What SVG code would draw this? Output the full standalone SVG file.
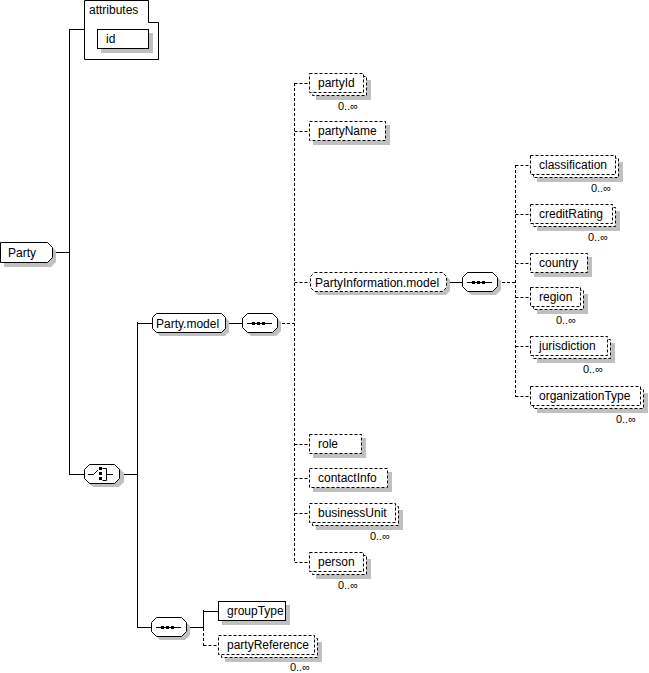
<svg xmlns="http://www.w3.org/2000/svg" width="649" height="673" viewBox="0 0 649 673">
<style>
.sh{fill:#c0c0c0;stroke:none}
.box{fill:#fff;stroke:#000;stroke-width:1}
.d{stroke-dasharray:3 2}
.t{font-family:"Liberation Sans",Arial,sans-serif;font-size:12px;fill:#000}
.occ{font-family:"Liberation Sans",Arial,sans-serif;font-size:11px;fill:#000;text-anchor:end}
.ln{stroke:#000;stroke-width:1;fill:none}
.sym{fill:#000;stroke:none}
</style>
<rect width="649" height="673" fill="#fff"/>
<g id="connectors">
<path class="ln" d="M52,252.5H69.5M69.5,29V475M69.5,29.5H84M69.5,474.5H84M119,474.5H137.5M137.5,322V628M137.5,323.5H152M225,323.5H242M446,282.5H463M137.5,627.5H151M186,627.5H203.5M203.5,610V628M203.5,611.5H218"/>
<path class="ln d" d="M277,323.5H294.5M294.5,83V563M294.5,83.5H309M294.5,131.5H309M294.5,282.5H310M294.5,444.5H309M294.5,478.5H309M294.5,513.5H309M294.5,562.5H309M497,282.5H515.5M515.5,165V397M515.5,165.5H530M515.5,214.5H530M515.5,263.5H530M515.5,297.5H530M515.5,346.5H530M515.5,396.5H530M203.5,628V646M203.5,645.5H218"/>
</g>
<g id="attributes">
<path class="box" d="M84.5,0.5H148.5V22.5H158.5V59.5H84.5Z"/>
<text class="t" x="89" y="14">attributes</text>
<rect class="sh" x="101" y="33" width="52" height="20"/>
<rect class="box" x="97.5" y="29.5" width="51" height="19"/>
<text class="t" x="106" y="43">id</text>
</g>
<g id="Party">
<path class="sh" d="M4,246H51L56,251V262L51,267H4Z"/>
<path class="box" d="M0.5,242.5H47.5L52.5,247.5V257.5L47.5,262.5H0.5Z"/>
<text class="t" x="8" y="257">Party</text>
</g>
<g id="choice">
<path class="sh" d="M93,468H119L124,473V482L119,487H93L88,482V473Z"/>
<path class="box" d="M89.5,464.5H114.5L119.5,469.5V478.5L114.5,483.5H89.5L84.5,478.5V469.5Z"/>
<path class="ln" d="M88,474.5H93.5L98,470M102.5,468.5H106.5V480.5H102.5M106.5,474.5H113"/>
<rect class="sym" x="99" y="467" width="3" height="3"/>
<rect class="sym" x="99" y="472" width="3" height="3"/>
<rect class="sym" x="99" y="477" width="3" height="3"/>
</g>
<g id="Party.model">
<path class="sh" d="M160,317H225L229,321V332L225,336H160L156,332V321Z"/>
<path class="box" d="M156.5,313.5H221.5L225.5,317.5V328.5L221.5,332.5H156.5L152.5,328.5V317.5Z"/>
<text class="t" x="156" y="328">Party.model</text>
</g>
<g id="seq1">
<path class="sh" d="M251,317H276L281,322V331L276,336H251L246,331V322Z"/>
<path class="box" d="M247.5,313.5H272.5L277.5,318.5V327.5L272.5,332.5H247.5L242.5,327.5V318.5Z"/>
<path class="ln" d="M247,323.5H272"/>
<rect class="sym" x="252" y="322" width="3" height="3"/>
<rect class="sym" x="257" y="322" width="3" height="3"/>
<rect class="sym" x="262" y="322" width="3" height="3"/>
</g>
<g id="partyId">
<rect class="sh" x="316" y="80" width="55" height="20"/>
<rect class="box d" x="312.5" y="76.5" width="54" height="19"/>
<rect class="box d" x="309.5" y="73.5" width="54" height="19"/>
<text class="t" x="318" y="87">partyId</text>
<text class="occ" x="358" y="110">0..∞</text>
</g>
<g id="partyName">
<rect class="sh" x="313" y="125" width="77" height="20"/>
<rect class="box d" x="309.5" y="121.5" width="76" height="19"/>
<text class="t" x="318" y="135">partyName</text>
</g>
<g id="PartyInformation.model">
<path class="sh" d="M318,276H446L450,280V291L446,295H318L314,291V280Z"/>
<path class="box d" d="M314.5,272.5H442.5L446.5,276.5V287.5L442.5,291.5H314.5L310.5,287.5V276.5Z"/>
<text class="t" x="315" y="287">PartyInformation.model</text>
</g>
<g id="seq2">
<path class="sh" d="M471,276H496L501,281V290L496,295H471L466,290V281Z"/>
<path class="box" d="M467.5,272.5H492.5L497.5,277.5V286.5L492.5,291.5H467.5L462.5,286.5V277.5Z"/>
<path class="ln" d="M467,282.5H492"/>
<rect class="sym" x="472" y="281" width="3" height="3"/>
<rect class="sym" x="477" y="281" width="3" height="3"/>
<rect class="sym" x="482" y="281" width="3" height="3"/>
</g>
<g id="classification">
<rect class="sh" x="537" y="162" width="86" height="20"/>
<rect class="box d" x="533.5" y="158.5" width="85" height="19"/>
<rect class="box d" x="530.5" y="155.5" width="85" height="19"/>
<text class="t" x="539" y="169">classification</text>
<text class="occ" x="611" y="192">0..∞</text>
</g>
<g id="creditRating">
<rect class="sh" x="537" y="211" width="83" height="20"/>
<rect class="box d" x="533.5" y="207.5" width="82" height="19"/>
<rect class="box d" x="530.5" y="204.5" width="82" height="19"/>
<text class="t" x="539" y="218">creditRating</text>
<text class="occ" x="608" y="241">0..∞</text>
</g>
<g id="country">
<rect class="sh" x="534" y="257" width="58" height="20"/>
<rect class="box d" x="530.5" y="253.5" width="57" height="19"/>
<text class="t" x="539" y="267">country</text>
</g>
<g id="region">
<rect class="sh" x="537" y="294" width="51" height="20"/>
<rect class="box d" x="533.5" y="290.5" width="50" height="19"/>
<rect class="box d" x="530.5" y="287.5" width="50" height="19"/>
<text class="t" x="539" y="301">region</text>
<text class="occ" x="576" y="324">0..∞</text>
</g>
<g id="jurisdiction">
<rect class="sh" x="537" y="343" width="78" height="20"/>
<rect class="box d" x="533.5" y="339.5" width="77" height="19"/>
<rect class="box d" x="530.5" y="336.5" width="77" height="19"/>
<text class="t" x="539" y="350">jurisdiction</text>
<text class="occ" x="603" y="373">0..∞</text>
</g>
<g id="organizationType">
<rect class="sh" x="537" y="393" width="111" height="20"/>
<rect class="box d" x="533.5" y="389.5" width="110" height="19"/>
<rect class="box d" x="530.5" y="386.5" width="110" height="19"/>
<text class="t" x="539" y="400">organizationType</text>
<text class="occ" x="636" y="423">0..∞</text>
</g>
<g id="role">
<rect class="sh" x="313" y="438" width="53" height="20"/>
<rect class="box d" x="309.5" y="434.5" width="52" height="19"/>
<text class="t" x="318" y="448">role</text>
</g>
<g id="contactInfo">
<rect class="sh" x="313" y="472" width="79" height="20"/>
<rect class="box d" x="309.5" y="468.5" width="78" height="19"/>
<text class="t" x="318" y="482">contactInfo</text>
</g>
<g id="businessUnit">
<rect class="sh" x="316" y="510" width="87" height="20"/>
<rect class="box d" x="312.5" y="506.5" width="86" height="19"/>
<rect class="box d" x="309.5" y="503.5" width="86" height="19"/>
<text class="t" x="318" y="517">businessUnit</text>
<text class="occ" x="390" y="540">0..∞</text>
</g>
<g id="person">
<rect class="sh" x="316" y="559" width="55" height="20"/>
<rect class="box d" x="312.5" y="555.5" width="54" height="19"/>
<rect class="box d" x="309.5" y="552.5" width="54" height="19"/>
<text class="t" x="318" y="566">person</text>
<text class="occ" x="358" y="589">0..∞</text>
</g>
<g id="seq3">
<path class="sh" d="M160,621H185L190,626V635L185,640H160L155,635V626Z"/>
<path class="box" d="M156.5,617.5H181.5L186.5,622.5V631.5L181.5,636.5H156.5L151.5,631.5V622.5Z"/>
<path class="ln" d="M156,627.5H181"/>
<rect class="sym" x="161" y="626" width="3" height="3"/>
<rect class="sym" x="166" y="626" width="3" height="3"/>
<rect class="sym" x="171" y="626" width="3" height="3"/>
</g>
<g id="groupType">
<rect class="sh" x="222" y="605" width="68" height="20"/>
<rect class="box" x="218.5" y="601.5" width="67" height="19"/>
<text class="t" x="227" y="615">groupType</text>
</g>
<g id="partyReference">
<rect class="sh" x="225" y="642" width="97" height="20"/>
<rect class="box d" x="221.5" y="638.5" width="96" height="19"/>
<rect class="box d" x="218.5" y="635.5" width="96" height="19"/>
<text class="t" x="227" y="649">partyReference</text>
<text class="occ" x="310" y="671">0..∞</text>
</g>
</svg>
